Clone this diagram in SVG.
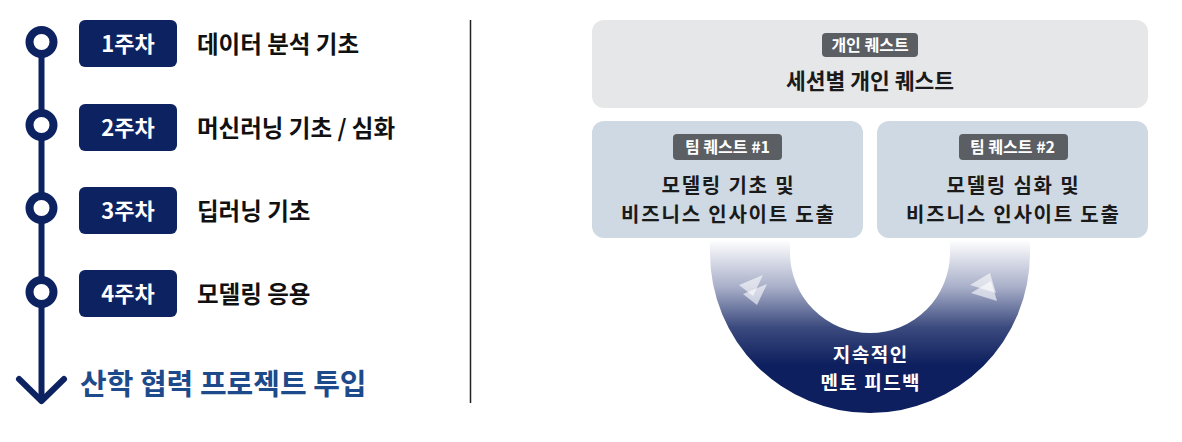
<svg xmlns="http://www.w3.org/2000/svg" width="1182" height="442" viewBox="0 0 1182 442">
<defs>
<style>
text{font-family:"Noto Sans CJK KR","Noto Sans",sans-serif;font-weight:700}
.badge{fill:#0d2361}
.btxt{fill:#ffffff;font-size:22px;text-anchor:middle}
.desc{fill:#111111;font-size:23.5px}
.tag{fill:#5b5e63}
.tagt{fill:#ffffff;font-size:16px;text-anchor:middle}
.main{fill:#1a1a1a;font-size:20px;letter-spacing:1.8px;text-anchor:middle}
.ring{fill:#ffffff;stroke:#0d2361;stroke-width:8}
.fb{fill:#ffffff;font-size:19px;letter-spacing:1.5px;text-anchor:middle}
</style>
<linearGradient id="arcg" gradientUnits="userSpaceOnUse" x1="0" y1="240" x2="0" y2="365">
<stop offset="0" stop-color="#ffffff"/>
<stop offset="0.38" stop-color="#a7aec8"/>
<stop offset="0.7" stop-color="#3b4a7e"/>
<stop offset="1" stop-color="#0d1f5e"/>
</linearGradient>
</defs>
<rect width="1182" height="442" fill="#ffffff"/>

<g id="connectors">
<line x1="41.5" y1="42" x2="41.5" y2="400" stroke="#0d2361" stroke-width="6"/>
<polyline points="19,379 41.5,401 64,379" fill="none" stroke="#0d2361" stroke-width="6" stroke-linecap="round" stroke-linejoin="round"/>
<line x1="470.5" y1="20" x2="470.5" y2="403" stroke="#222222" stroke-width="1.5"/>
</g>

<g id="week1">
<circle class="ring" cx="41.5" cy="42" r="12"/>
<rect class="badge" x="79" y="20" width="98" height="47" rx="6"/>
<text class="btxt" x="128" y="52">1주차</text>
<text class="desc" x="197" y="52.5">데이터 분석 기초</text>
</g>
<g id="week2">
<circle class="ring" cx="41.5" cy="125" r="12"/>
<rect class="badge" x="79" y="104" width="98" height="47" rx="6"/>
<text class="btxt" x="128" y="136">2주차</text>
<text class="desc" x="197" y="136.5">머신러닝 기초 / 심화</text>
</g>
<g id="week3">
<circle class="ring" cx="41.5" cy="208" r="12"/>
<rect class="badge" x="79" y="187" width="98" height="47" rx="6"/>
<text class="btxt" x="128" y="219">3주차</text>
<text class="desc" x="197" y="219.5">딥러닝 기초</text>
</g>
<g id="week4">
<circle class="ring" cx="41.5" cy="292" r="12"/>
<rect class="badge" x="79" y="270" width="98" height="47" rx="6"/>
<text class="btxt" x="128" y="302">4주차</text>
<text class="desc" x="197" y="302.5">모델링 응용</text>
</g>
<g id="final">
<text x="80" y="394.5" fill="#1c4a8a" font-size="29">산학 협력 프로젝트 투입</text>
</g>

<g id="feedback">
<path d="M710,238 L710,253 A160,160 0 0 0 1030,253 L1030,238 L950,238 L950,253 A80,80 0 0 1 790,253 L790,238 Z" fill="url(#arcg)"/>
<g fill="#ffffff" fill-opacity="0.6">
<polygon points="739,285 763,275 753,296"/>
<polygon points="743,294 767,284 757,305"/>
</g>
<g fill="#ffffff" fill-opacity="0.6">
<polygon points="970,285 990,273 996,293"/>
<polygon points="971,293 991,281 997,301"/>
</g>
<text class="fb" x="870.75" y="362">지속적인</text>
<text class="fb" x="870.75" y="390">멘토 피드백</text>
</g>

<g id="personal">
<rect x="592" y="20" width="556" height="88" rx="12" fill="#e6e7e9"/>
<rect class="tag" x="822" y="33" width="96" height="24" rx="4"/>
<text class="tagt" x="870" y="50.5">개인 퀘스트</text>
<text x="870" y="89" fill="#1a1a1a" font-size="21.5" text-anchor="middle">세션별 개인 퀘스트</text>
</g>
<g id="team1">
<rect x="592" y="121" width="271" height="117" rx="12" fill="#cfd9e3"/>
<rect class="tag" x="673" y="134" width="109" height="26" rx="4"/>
<text class="tagt" x="727.5" y="152.5">팀 퀘스트 #1</text>
<text class="main" x="728.4" y="192.5">모델링 기초 및</text>
<text class="main" x="728.4" y="222">비즈니스 인사이트 도출</text>
</g>
<g id="team2">
<rect x="877" y="121" width="271" height="117" rx="12" fill="#cfd9e3"/>
<rect class="tag" x="959" y="134" width="109" height="26" rx="4"/>
<text class="tagt" x="1012.5" y="152.5">팀 퀘스트 #2</text>
<text class="main" x="1013.4" y="192.5">모델링 심화 및</text>
<text class="main" x="1013.4" y="222">비즈니스 인사이트 도출</text>
</g>
</svg>
